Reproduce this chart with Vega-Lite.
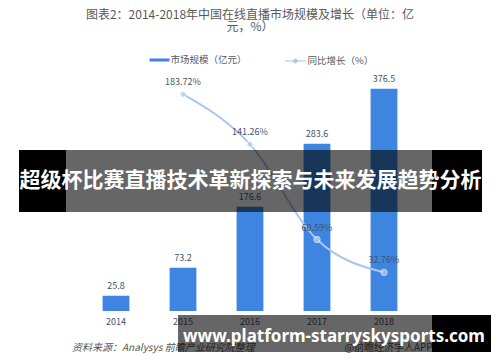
{
  "$schema": "https://vega.github.io/schema/vega-lite/v6.json",
  "width": 335,
  "height": 236,
  "autosize": "none",
  "padding": {"left": 82.5, "top": 75, "right": 82.5, "bottom": 51},
  "background": "white",
  "config": {
    "view": {"stroke": null},
    "font": "Noto Sans CJK SC",
    "legend": {"padding": 0}
  },
  "title": {
    "text": ["图表2：2014-2018年中国在线直播市场规模及增长（单位：亿", "元，%）"],
    "fontSize": 12,
    "fontWeight": "normal",
    "color": "#595959",
    "font": "Noto Sans CJK SC",
    "anchor": "middle",
    "lineHeight": 12,
    "offset": 16
  },
  "data": {
    "values": [
      {"year": "2014", "value": 25.8, "growth": null},
      {"year": "2015", "value": 73.2, "growth": 1.8372},
      {"year": "2016", "value": 176.6, "growth": 1.4126},
      {"year": "2017", "value": 283.6, "growth": 0.6059},
      {"year": "2018", "value": 376.5, "growth": 0.3276}
    ]
  },
  "layer": [
    {
      "encoding": {
        "x": {
          "field": "year",
          "type": "ordinal",
          "scale": {"paddingInner": 0.6, "paddingOuter": 0.3},
          "axis": {
            "title": null,
            "labelAngle": 0,
            "domain": false,
            "ticks": false,
            "labelColor": "#44546a",
            "labelFontSize": 9,
            "labelPadding": 6,
            "labelFont": "Noto Sans CJK SC"
          }
        }
      },
      "layer": [
        {
          "mark": {"type": "bar"},
          "encoding": {
            "y": {"field": "value", "type": "quantitative", "scale": {"domain": [0, 400]}, "axis": null},
            "color": {
              "datum": "市场规模（亿元）",
              "type": "nominal",
              "scale": {"range": ["#3d85e0"]},
              "legend": {
                "orient": "none",
                "legendX": 67,
                "legendY": -25,
                "title": null,
                "symbolType": "M-1,-0.15H1V0.15H-1Z",
                "symbolSize": 400,
                "symbolStrokeWidth": 0,
                "labelFontSize": 9.5,
                "labelColor": "#595959",
                "labelFont": "Noto Sans CJK SC",
                "labelOffset": 1
              }
            }
          }
        },
        {
          "mark": {"type": "text", "baseline": "middle", "dy": -10, "fontSize": 9, "color": "#44546a", "font": "Noto Sans CJK SC"},
          "encoding": {
            "y": {"field": "value", "type": "quantitative", "scale": {"domain": [0, 400]}, "axis": null},
            "text": {"field": "value", "type": "quantitative", "format": ".1f"}
          }
        }
      ]
    },
    {
      "transform": [{"filter": "datum.growth != null"}],
      "encoding": {
        "x": {"field": "year", "type": "ordinal"}
      },
      "layer": [
        {
          "mark": {"type": "line", "interpolate": "monotone", "strokeWidth": 2},
          "encoding": {
            "y": {"field": "growth", "type": "quantitative", "scale": {"domain": [0, 2]}, "axis": null},
            "stroke": {
              "datum": "同比增长（%）",
              "type": "nominal",
              "scale": {"range": ["#a9c6ee"]},
              "legend": {
                "orient": "none",
                "legendX": 202,
                "legendY": -25,
                "title": null,
                "symbolType": "M-1,0H1M-0.18,0A0.18,0.18 0 1,0 0.18,0A0.18,0.18 0 1,0 -0.18,0Z",
                "symbolSize": 441,
                "symbolStrokeWidth": 1,
                "symbolFillColor": "#a9c6ee",
                "labelFontSize": 9.5,
                "labelColor": "#595959",
                "labelFont": "Noto Sans CJK SC",
                "labelOffset": 1
              }
            }
          }
        },
        {
          "mark": {"type": "point", "filled": true, "size": 40, "color": "#b7cdec", "stroke": "#ffffff", "strokeWidth": 1},
          "encoding": {
            "y": {"field": "growth", "type": "quantitative", "scale": {"domain": [0, 2]}, "axis": null}
          }
        },
        {
          "mark": {"type": "text", "baseline": "middle", "dy": -12, "fontSize": 9, "color": "#44546a", "font": "Noto Sans CJK SC"},
          "encoding": {
            "y": {"field": "growth", "type": "quantitative", "scale": {"domain": [0, 2]}, "axis": null},
            "text": {"field": "growth", "type": "quantitative", "format": ".2%"}
          }
        }
      ]
    },
    {
      "data": {"values": [{"src": "资料来源：Analysys 前瞻产业研究院整理", "app": "@前瞻经济学人APP"}]},
      "layer": [
        {
          "mark": {"type": "text", "align": "left", "baseline": "middle", "fontSize": 10, "fontStyle": "italic", "color": "#555555", "font": "Noto Sans CJK SC", "x": -10.5, "y": 273},
          "encoding": {"text": {"field": "src"}}
        },
        {
          "mark": {"type": "text", "align": "left", "baseline": "middle", "fontSize": 10, "color": "#555555", "font": "Noto Sans CJK SC", "x": 262, "y": 273},
          "encoding": {"text": {"field": "app"}}
        }
      ]
    },
    {
      "data": {"values": [{"banner": "超级杯比赛直播技术革新探索与未来发展趋势分析", "site": "www.platform-starryskysports.com"}]},
      "layer": [
        {"mark": {"type": "rect", "color": "#000000", "opacity": 1, "x": -63.5, "x2": -16.5, "y": 75, "y2": 137}, "encoding": {}},
        {"mark": {"type": "rect", "color": "#000000", "opacity": 0.6, "x": -16.5, "x2": 349.5, "y": 75, "y2": 137}, "encoding": {}},
        {"mark": {"type": "rect", "color": "#000000", "opacity": 1, "x": 349.5, "x2": 399.5, "y": 75, "y2": 137}, "encoding": {}},
        {
          "mark": {"type": "text", "align": "center", "baseline": "middle", "fontSize": 21, "fontWeight": "bold", "color": "#ffffff", "font": "Noto Sans CJK SC", "x": 168, "y": 106},
          "encoding": {"text": {"field": "banner"}}
        },
        {"mark": {"type": "rect", "color": "#000000", "opacity": 0.6, "x": 95.5, "x2": 349.5, "y": 240, "y2": 277}, "encoding": {}},
        {"mark": {"type": "rect", "color": "#000000", "opacity": 1, "x": 349.5, "x2": 408.5, "y": 240, "y2": 277}, "encoding": {}},
        {
          "mark": {"type": "text", "align": "center", "baseline": "middle", "fontSize": 17, "fontWeight": "bold", "color": "#ffffff", "font": "Noto Sans", "x": 251.5, "y": 261.5},
          "encoding": {"text": {"field": "site"}}
        }
      ]
    }
  ],
  "resolve": {"scale": {"y": "independent", "color": "independent"}}
}
